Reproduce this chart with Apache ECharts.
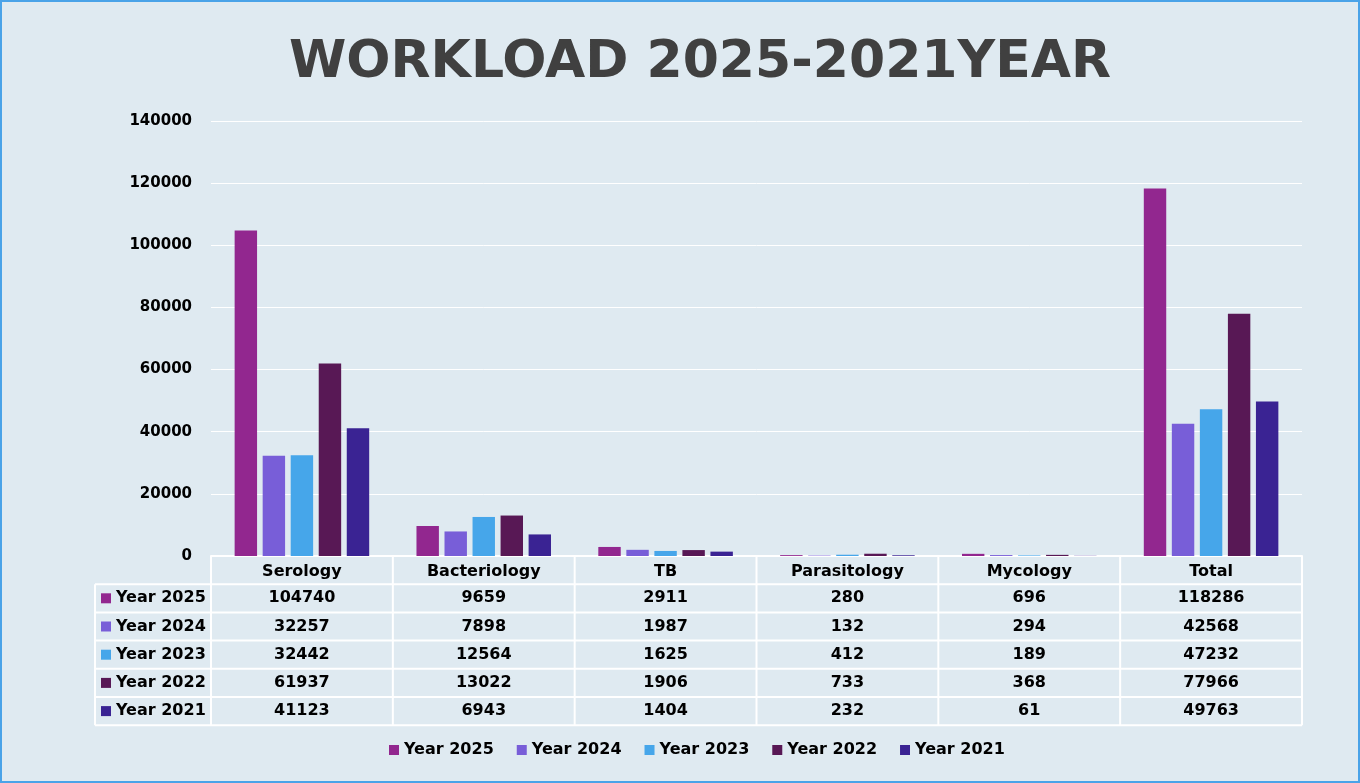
<!DOCTYPE html>
<html>
<head>
<meta charset="utf-8">
<script src="https://cdn.jsdelivr.net/npm/echarts@6/dist/echarts.min.js"></script>
<style>
    html, body { margin: 0; padding: 0; background: #dfeaf1; }
    #chart { width: 1360px; height: 783px; box-sizing: border-box; border: 2px solid #4aa3e8; }
</style>
</head>
<body>
<div id="chart"></div>
<script>
// Workload data
const categories = ['Serology', 'Bacteriology', 'TB', 'Parasitology', 'Mycology', 'Total'];
const seriesNames = ['Year 2025', 'Year 2024', 'Year 2023', 'Year 2022', 'Year 2021'];
const year2025 = [104740, 9659, 2911, 280, 696, 118286];
const year2024 = [32257, 7898, 1987, 132, 294, 42568];
const year2023 = [32442, 12564, 1625, 412, 189, 47232];
const year2022 = [61937, 13022, 1906, 733, 368, 77966];
const year2021 = [41123, 6943, 1404, 232, 61, 49763];
const colors = ['#92278f', '#785ed8', '#46a6ea', '#581855', '#3a2393'];

const seriesValues = [year2025, year2024, year2023, year2022, year2021];
const FONT = 'DejaVu Sans';

const chart = echarts.init(document.getElementById('chart'));

const option = {
    backgroundColor: '#dfeaf1',
    animation: false,
    color: colors,
    title: {
        text: 'WORKLOAD 2025-2021YEAR',
        left: 693,
        textAlign: 'center',
        top: 30,
        textStyle: { fontFamily: FONT, fontSize: 52, fontWeight: 'bold', color: '#404040' }
    },
    legend: {
        data: seriesNames,
        bottom: 18,
        left: 382,
        itemWidth: 10,
        itemHeight: 10,
        itemGap: 23,
        icon: 'rect',
        textStyle: { fontFamily: FONT, fontSize: 16, fontWeight: 'bold', color: '#000' }
    },
    grid: { left: 209, right: 56, top: 119, bottom: 225 },
    xAxis: {
        type: 'category',
        data: categories,
        axisLine: { lineStyle: { color: '#ffffff', width: 2 } },
        axisTick: { show: false },
        axisLabel: { fontFamily: FONT, fontSize: 16, fontWeight: 'bold', color: '#000', margin: 8 }
    },
    yAxis: {
        type: 'value',
        min: 0,
        max: 140000,
        interval: 20000,
        axisLine: { show: false },
        axisTick: { show: false },
        axisLabel: {
            fontFamily: FONT, fontSize: 15, fontWeight: 'bold', color: '#000', margin: 19,
            formatter: value => String(value)
        },
        splitLine: { lineStyle: { color: '#ffffff', width: 1 } }
    },
    series: seriesNames.map((name, i) => ({
        name: name,
        type: 'bar',
        data: seriesValues[i],
        barGap: '25%',
        barCategoryGap: '26%',
        itemStyle: { color: colors[i] }
    }))
};

chart.setOption(option);

// Data table under the plot, placed from the axis scale
function buildTable() {
    const grid = chart.getModel().getComponent('grid').coordinateSystem.getRect();
    const x0 = grid.x;
    const x1 = grid.x + grid.width;
    const yTop = grid.y + grid.height;
    const rowH = 28.2;
    const colW = grid.width / categories.length;
    const leftX = 93;
    const elements = [];
    const line = (xa, ya, xb, yb) => ({
        type: 'line',
        shape: { x1: xa, y1: ya, x2: xb, y2: yb },
        style: { stroke: '#ffffff', lineWidth: 2 },
        silent: true
    });

    const bottomY = yTop + rowH * (seriesNames.length + 1);
    // horizontal lines
    elements.push(line(x0, yTop, x1, yTop));
    for (let r = 1; r <= seriesNames.length + 1; r++) {
        elements.push(line(leftX, yTop + rowH * r, x1, yTop + rowH * r));
    }
    // vertical lines
    for (let c = 0; c <= categories.length; c++) {
        elements.push(line(x0 + colW * c, yTop, x0 + colW * c, bottomY));
    }
    elements.push(line(leftX, yTop + rowH, leftX, bottomY));

    seriesNames.forEach((name, r) => {
        const cy = yTop + rowH * (r + 1.5);
        elements.push({
            type: 'rect',
            shape: { x: leftX + 6, y: cy - 5, width: 10, height: 10 },
            style: { fill: colors[r] },
            silent: true
        });
        elements.push({
            type: 'text',
            x: leftX + 21, y: cy,
            style: { text: name, fontFamily: FONT, fontSize: 16, fontWeight: 'bold', fill: '#000', verticalAlign: 'middle', align: 'left' },
            silent: true
        });
        categories.forEach((cat, c) => {
            const cx = chart.convertToPixel({ xAxisIndex: 0 }, cat);
            elements.push({
                type: 'text',
                x: cx, y: cy,
                style: { text: String(seriesValues[r][c]), fontFamily: FONT, fontSize: 16, fontWeight: 'bold', fill: '#000', align: 'center', verticalAlign: 'middle' },
                silent: true
            });
        });
    });

    chart.setOption({ graphic: { elements: elements } });
}

buildTable();
</script>
</body>
</html>
